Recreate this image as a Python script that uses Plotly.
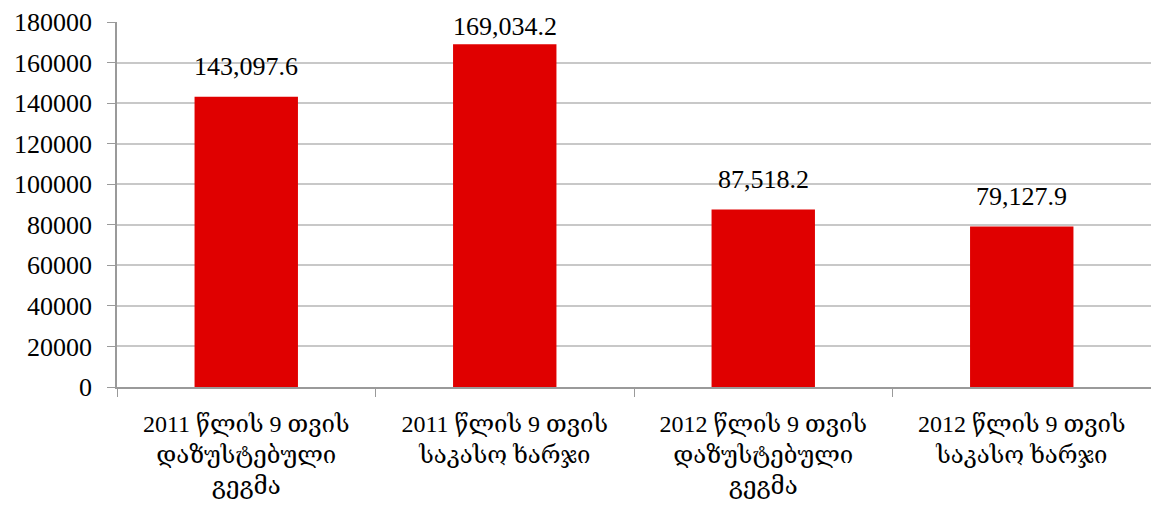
import plotly.graph_objects as go

# data
categories = [
    "2011 წლის 9 თვის<br>დაზუსტებული<br>გეგმა",
    "2011 წლის 9 თვის<br>საკასო ხარჯი",
    "2012 წლის 9 თვის<br>დაზუსტებული<br>გეგმა",
    "2012 წლის 9 თვის<br>საკასო ხარჯი",
]
values = [143097.6, 169034.2, 87518.2, 79127.9]
y_ticks = [0, 20000, 40000, 60000, 80000, 100000, 120000, 140000, 160000, 180000]

font_family = "Liberation Serif, DejaVu Serif, serif"
y_max = 180000

fig = go.Figure()
fig.add_trace(go.Bar(
    x=categories,
    y=values,
    marker=dict(color="#e00000", line=dict(width=0)),
    width=0.4,
    showlegend=False,
    hoverinfo="skip",
))

# etiquetas de valor sobre las barras (la más alta se acerca a la barra para no salirse)
for cat, val in zip(categories, values):
    fig.add_annotation(
        x=cat, y=val,
        text=f"{val:,.1f}",
        showarrow=False,
        yanchor="bottom",
        borderpad=0,
        yshift=15 if val < 0.9 * y_max else 2,
        font=dict(size=26, color="black", family=font_family),
    )

fig.update_layout(
    width=1143,
    height=497,
    margin=dict(l=109, r=0, t=14, b=118),
    plot_bgcolor="white",
    paper_bgcolor="white",
    font=dict(family=font_family, color="black"),
)

fig.update_yaxes(
    range=[0, y_max],
    tickvals=y_ticks,
    tickformat="d",
    showgrid=True,
    gridcolor="#c8c8c8",
    gridwidth=1.5,
    zeroline=False,
    showline=True,
    linecolor="#9a9a9a",
    linewidth=1.5,
    ticks="outside",
    ticklen=8,
    tickcolor="#9a9a9a",
    ticklabelstandoff=10,
    tickfont=dict(size=26, family=font_family),
)
fig.update_xaxes(
    showline=True,
    linecolor="#9a9a9a",
    linewidth=1.5,
    ticks="outside",
    tickson="boundaries",
    ticklen=8,
    tickcolor="#9a9a9a",
    ticklabelstandoff=14,
    tickfont=dict(size=24, family=font_family),
    showgrid=False,
)

fig.write_html("out.html")
